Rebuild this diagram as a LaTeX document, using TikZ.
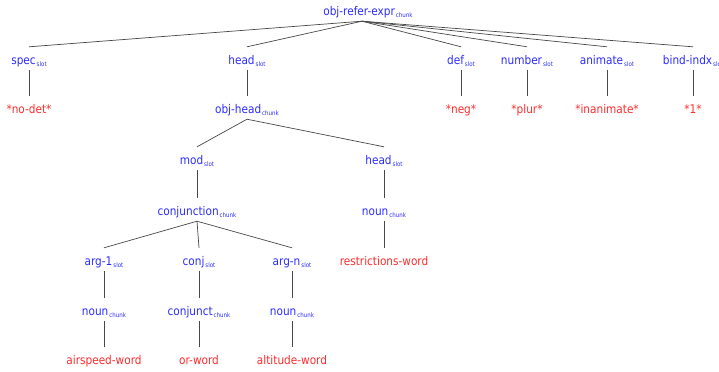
\documentclass[tikz,border=0pt]{standalone}
\usepackage{fontspec}
\setmainfont{DejaVu Sans}[FakeStretch=0.88]
\definecolor{nblue}{RGB}{45,45,255}
\definecolor{nred}{RGB}{255,45,45}
\newcommand\subtx[1]{\kern1bp\raisebox{-2.5bp}{\fontsize{6.3}{7}\selectfont #1}}
\tikzset{
  lbl/.style={font=\fontsize{12}{14}\selectfont, text=nblue, anchor=base,
              inner xsep=1bp, inner ysep=5bp, text height=12bp, text depth=1bp},
  val/.style={lbl, text=nred},
  edge/.style={draw=black!72, line width=0.7pt}
}
\begin{document}
\begin{tikzpicture}[x=1bp,y=-1bp]
\useasboundingbox (0,0) rectangle (719,371);
\clip (0,0) rectangle (719,371);
\fill[white] (0,0) rectangle (719,371);
% row 1
\node[lbl] (root) at (368,15) {obj-refer-expr\subtx{chunk}};
\coordinate (apex) at ([xshift=-6bp]root.south);
% row 2
\node[lbl] (spec) at (29,64) {spec\subtx{slot}};
\node[lbl] (head) at (247,64) {head\subtx{slot}};
\node[lbl] (def) at (461,64) {def\subtx{slot}};
\node[lbl] (number) at (527,64) {number\subtx{slot}};
\node[lbl] (animate) at (607,64) {animate\subtx{slot}};
\node[lbl] (bind) at (693,64) {bind-indx\subtx{slot}};
% row 3
\node[val] (nodet) at (29,113) {*no-det*};
\node[lbl] (objhead) at (247,113) {obj-head\subtx{chunk}};
\node[val] (neg) at (461,113) {*neg*};
\node[val] (plur) at (527,113) {*plur*};
\node[val] (inan) at (607,113) {*inanimate*};
\node[val] (one) at (693,113) {*1*};
% row 4
\node[lbl] (mod) at (197,164) {mod\subtx{slot}};
\node[lbl] (headb) at (384,164) {head\subtx{slot}};
% row 5
\node[lbl] (conjn) at (197,215) {conjunction\subtx{chunk}};
\node[lbl] (nounr) at (384,215) {noun\subtx{chunk}};
% row 6
\node[lbl] (arga) at (104,265) {arg-1\subtx{slot}};
\node[lbl] (conj) at (199,265) {conj\subtx{slot}};
\node[lbl] (argn) at (292,265) {arg-n\subtx{slot}};
\node[val] (restr) at (384,265) {restrictions-word};
% row 7
\node[lbl] (nouna) at (104,315) {noun\subtx{chunk}};
\node[lbl] (conjunct) at (199,315) {conjunct\subtx{chunk}};
\node[lbl] (nounn) at (292,315) {noun\subtx{chunk}};
% row 8
\node[val] (air) at (104,364) {airspeed-word};
\node[val] (orw) at (199,364) {or-word};
\node[val] (alt) at (292,364) {altitude-word};
% edges
\foreach \c in {spec,head,def,number,animate,bind}
  \draw[edge] (apex) -- (\c.north);
\draw[edge] (spec.south) -- (nodet.north);
\draw[edge] (head.south) -- (objhead.north);
\draw[edge] (def.south) -- (neg.north);
\draw[edge] (number.south) -- (plur.north);
\draw[edge] (animate.south) -- (inan.north);
\draw[edge] (bind.south) -- (one.north);
\draw[edge] (objhead.south) -- (mod.north);
\draw[edge] (objhead.south) -- (headb.north);
\draw[edge] (mod.south) -- (conjn.north);
\draw[edge] (headb.south) -- (nounr.north);
\draw[edge] (nounr.south) -- (restr.north);
\draw[edge] (conjn.south) -- (arga.north);
\draw[edge] (conjn.south) -- (conj.north);
\draw[edge] (conjn.south) -- (argn.north);
\draw[edge] (arga.south) -- (nouna.north);
\draw[edge] (conj.south) -- (conjunct.north);
\draw[edge] (argn.south) -- (nounn.north);
\draw[edge] (nouna.south) -- (air.north);
\draw[edge] (conjunct.south) -- (orw.north);
\draw[edge] (nounn.south) -- (alt.north);
\end{tikzpicture}
\end{document}
